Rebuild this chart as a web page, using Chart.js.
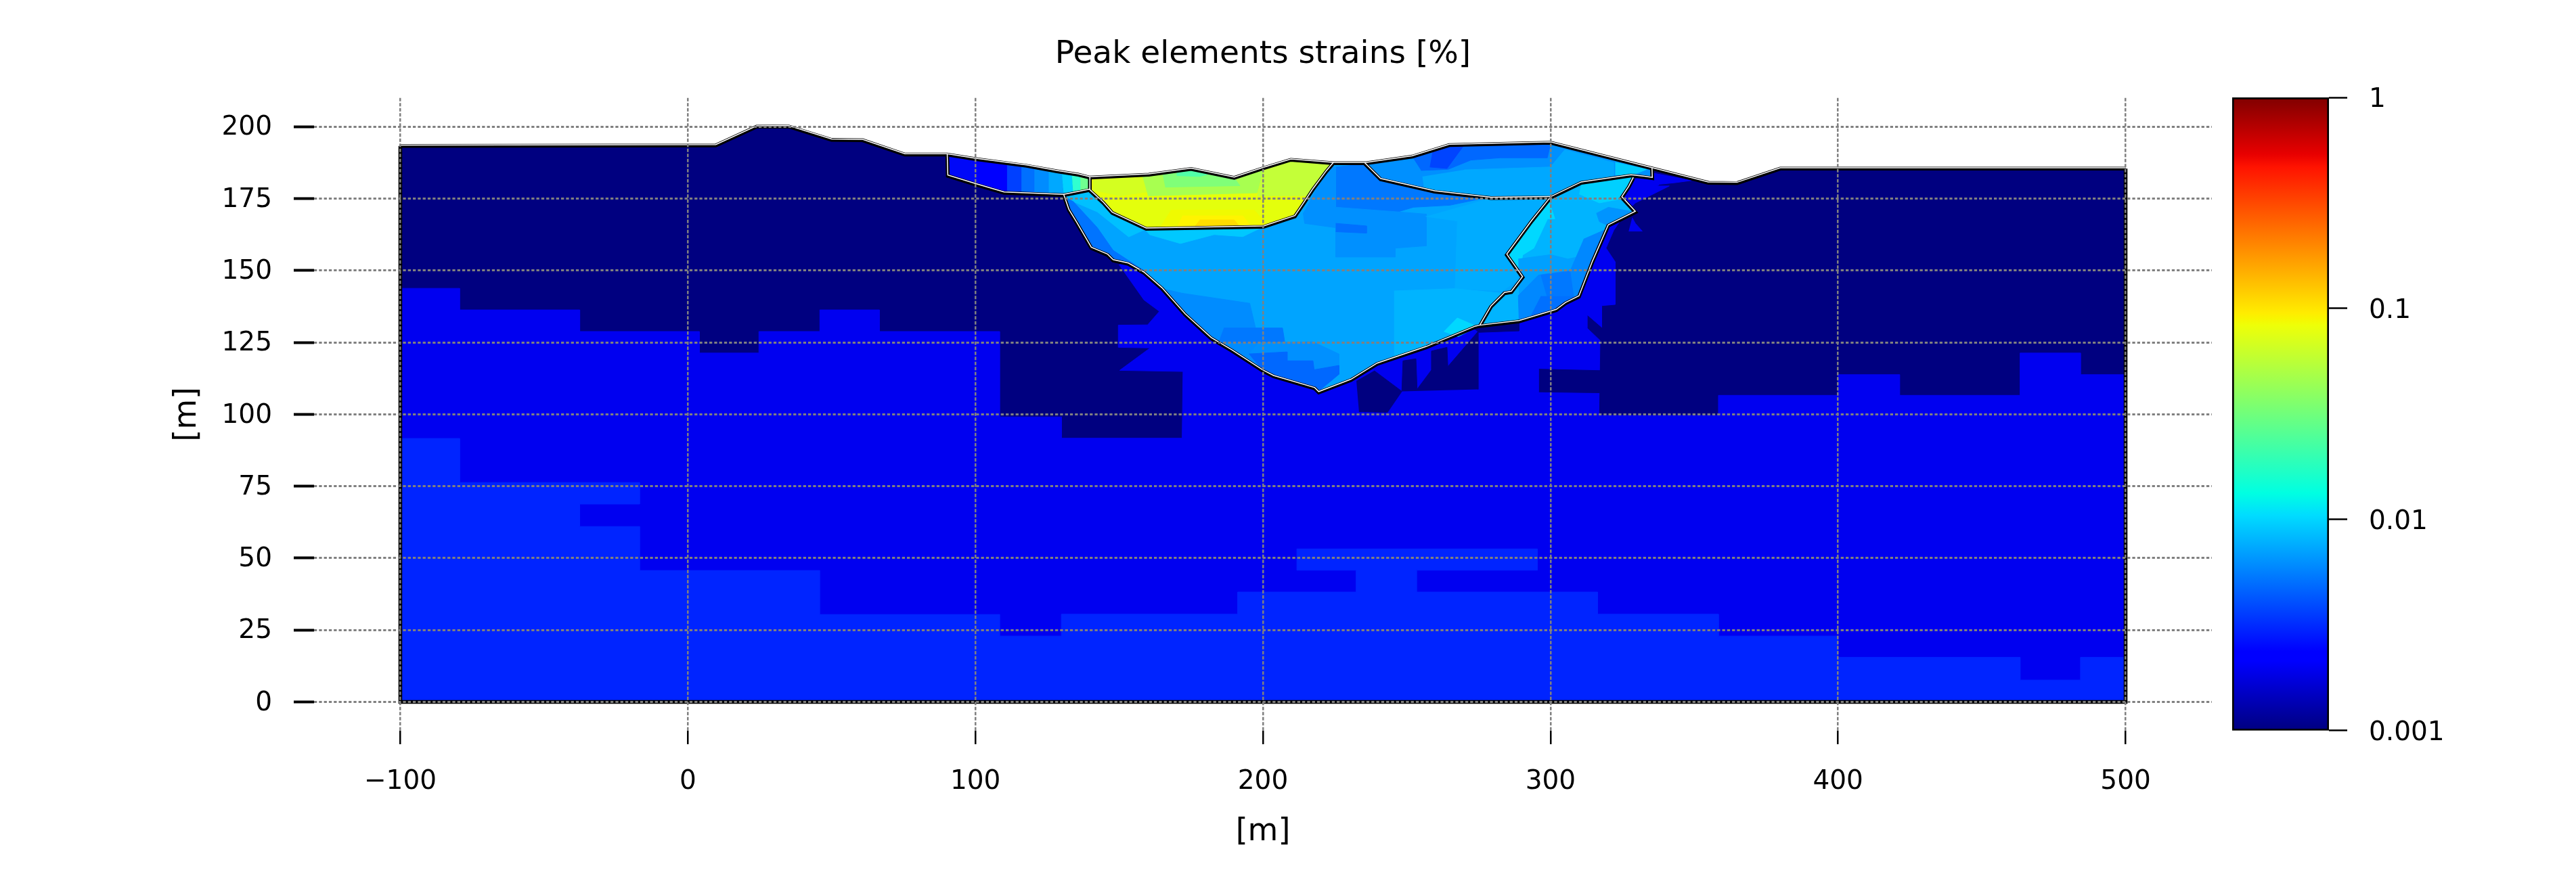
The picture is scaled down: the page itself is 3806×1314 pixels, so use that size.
<!DOCTYPE html>
<html>
<head>
<meta charset="utf-8">
<script src="https://cdn.jsdelivr.net/npm/chart.js@4"></script>
<style>
  html, body { margin: 0; background: #fff; }
  #main { position: absolute; left: 0; top: 0; }
  #bar { position: absolute; left: 3280px; top: 120px; }
</style>
</head>
<body>
<canvas id="main" width="3806" height="1314"></canvas>
<canvas id="bar" width="360" height="990"></canvas>
<script>
const xTicks = [-100, 0, 100, 200, 300, 400, 500];
const yTicks = [0, 25, 50, 75, 100, 125, 150, 175, 200];
const barTicks = [0.001, 0.01, 0.1, 1];
const barLabels = ['0.001', '0.01', '0.1', '1'];

// ground surface, left to right [x, y] in metres
const surface = [[-100,193.3],[9.7,193.5],[23.9,200],[35,200.1],[50,195.4],[60.8,195.3],[75.5,190.3],[90.2,190.3],[99.8,188.8],[117.8,186.4],[128.4,184.5],[135.8,183.3],[139.8,182.3],[160.3,183.3],[175,185.3],[190,182.2],[200.2,185.6],[209.7,188.5],[224.5,187.3],[236,187.3],[251.9,189.6],[264.8,193.6],[300.1,194.4],[335.3,185.5],[354.9,180.5],[364.9,180.4],[379.9,185.4],[500,185.4]];
const domain = [...surface, [500,0], [-100,0]];

// foundation fields (top edge then down to the base)
const blueField = [[-100,143.8],[-79.4,143.8],[-79.4,136.3],[-37.6,136.3],[-37.6,128.8],[4,128.8],[4,121.3],[24.7,121.3],[24.7,128.8],[45.9,128.8],[45.9,136.3],[66.6,136.3],[66.6,128.8],[108.4,128.8],[108.4,99.1],[129.9,99.1],[129.9,91.7],[171.9,91.7],[172.2,114.9],[150.2,115.3],[160.8,123.1],[149.7,123.3],[149.7,131],[159.9,131.1],[164,135.8],[158.6,139.8],[150,152],[200,170],[300,170],[335,184],[349,181.3],[343,180.5],[338,180],[337,179.4],[341.3,179.4],[329.5,173.5],[326,170],[322,164],[319.3,157.8],[322.5,153],[322.5,138.2],[317.8,137.8],[317.8,130.3],[312.7,134.7],[312.7,130],[317.2,125.7],[316.8,99.6],[358.4,99.6],[358.4,106.6],[400,106.6],[400,113.8],[421.4,113.8],[421.4,106.6],[463.3,106.6],[463.3,121.3],[484.3,121.3],[484.3,113.8],[500,113.8],[500,0],[-100,0]];
const lightField = [[-100,91.6],[-79.4,91.6],[-79.4,76.3],[-16.8,76.3],[-16.8,68.8],[-37.6,68.8],[-37.6,61],[-16.8,61],[-16.8,45.7],[45.8,45.7],[45.8,30.4],[108.4,30.4],[108.4,22.9],[129.9,22.9],[129.9,30.5],[191.2,30.5],[191.2,38.2],[232.4,38.2],[232.4,45.8],[211.8,45.8],[211.8,53.2],[295.4,53.2],[295.4,45.8],[253.4,45.8],[253.4,38.2],[316.4,38.2],[316.4,30.5],[358.4,30.5],[358.4,22.9],[400,22.9],[400,15.5],[463.3,15.5],[463.3,7.6],[484.3,7.6],[484.3,15.5],[500,15.5],[500,0],[-100,0]];
const pocketA = [[232.5,111.5],[238.8,115.1],[248.3,108],[243.3,100.7],[233.4,100.9]];
const pocketB = [[248.3,108],[248.7,118.6],[253.2,119.3],[253.6,108.7],[258.6,115.4],[258.6,122],[264,123.3],[264.3,116.6],[274.8,128.8],[274.8,108.7]];
const pocketC = [[296,115.7],[317.2,115.2],[317.2,107.5],[296,107.8]];
const sliver = [[272,130.8],[289,132.4],[289,129],[275,128.5]];
const blueChip = [[327.2,163.7],[331.9,163.7],[329.5,166.4],[328.4,168.4]];

// upstream shell, left to right
const shellA = [[90.2,190.3],[99.8,188.8],[100,180],[92,182.5],[90.4,182.9]];
const shellB = [[99.8,188.8],[111,187.3],[111,176.8],[100,180]];
const shellC = [[111,187.3],[116,186.6],[116,176.7],[111,176.8]];
const shellD = [[116,186.6],[120.5,186],[120.5,176.5],[116,176.7]];
const shellE = [[120.5,186],[125.5,185],[125.5,176.4],[120.5,176.5]];
const shellF = [[125.5,185],[130,184.3],[130.7,176.2],[125.5,176.4]];
const shellG = [[130,184.3],[133.5,183.7],[134,176.5],[130.7,176.2]];
const shellH = [[133.5,183.7],[136.5,183],[136.5,177.2],[134,176.5]];
const shellI = [[136.5,183],[139.8,182.3],[139.8,178],[136.5,177.2]];

// central body
const body = [[130.7,176.2],[139.8,178],[144.5,173.5],[147.6,170],[159.4,164.5],[200.2,165.2],[211.1,168.8],[214.3,173.5],[217.4,178.2],[222.1,184.5],[224.5,187.2],[235.4,187.2],[240.9,181.7],[259.7,177.4],[279.3,175.2],[300.1,175.4],[293.5,167.2],[284.8,155.4],[290.3,147.6],[286.4,142.5],[284,142.1],[279.3,137.4],[275.4,130.7],[273.9,130.4],[256.8,123.3],[239.7,117.5],[230.6,111.9],[219.4,107.6],[218,109],[203.7,113.2],[200,115.1],[189.2,122.1],[182,126.4],[173,134.6],[164.9,143.7],[158.6,149.2],[153.2,152.3],[147.9,153.5],[146,155.4],[140.3,157.8],[135.3,166.4],[132.5,171]];
const bodyTopDark = [[225.3,186],[235.4,187],[240.9,181.7],[259.7,177.4],[277.5,175.3],[265,172.7],[252.3,172],[246.9,170.4],[225.3,172]];
const bodyTopMid = [[218,177.4],[224,186],[225.3,186],[225.3,172],[246.9,170.4],[256.8,169.6],[256.8,158.6],[246,157.8],[246,154.7],[225.3,154.7],[225.3,164.9],[214.5,166.4],[214,170]];
const bodyBlob = [[225.3,166.4],[236,165.5],[236,163],[225.3,163.5]];
const underCore = [[158.7,164.5],[200,165.2],[193,161.8],[183,162.5],[171.3,159.4],[160.5,162.5]];
const coreSide = [[131.6,175.7],[139.8,177.8],[148,170],[159,164.3],[153.3,161.7],[142.4,170.4],[134,174]];
const leftStrip = [[132,175],[134,174],[142.4,164.9],[147.9,157],[158.6,150],[153.2,152.3],[147.9,153.5],[146,155.4],[140.3,157.8],[135.3,166.4],[132.5,171]];
const lowerLeft = [[165,143.7],[171.9,142.1],[195.4,138.6],[198.6,125],[205,114],[200,115.1],[189.2,122.1],[182,126.4],[173,134.6]];
const lowerDark = [[186.4,130],[206.8,130],[207.6,125],[198.6,124.9],[184.5,125]];
const baseDark = [[195.1,121],[208.4,121.7],[208.4,118.6],[217.4,118.6],[217.8,115.5],[226.4,117],[226.4,113.9],[219.8,108.4],[218,109],[203.7,113.2],[200,115.1]];
const baseMid = [[198.6,124.9],[217.4,125.2],[226.4,121],[226.4,117],[217.8,115.5],[208.4,118.6],[208.4,121.7],[195.1,121]];
const bodyRight = [[277.8,174.8],[299,175],[284.8,155.4],[290,147.6],[283.3,142.9],[266.8,143.7],[267.6,167.2],[256.6,168.8]];
const bodyRightLow = [[245.6,142.9],[266.8,143.7],[283.3,142.1],[275,130.7],[269.1,128],[261.3,125],[245.6,120]];
const bodyCyan = [[274.8,130.4],[267.6,133.5],[263,128.8],[268,127]];

// impervious core
const core = [[139.8,182.3],[160.3,183.3],[175,185.3],[190,182.2],[200.2,185.6],[209.7,188.5],[224.5,187.3],[222.1,184.5],[217.4,178.2],[214.3,173.5],[211.1,168.8],[200.2,165.2],[159.4,164.5],[147.6,170],[144.5,173.5],[139.8,177.8]];
const coreTopLeft = [[141,182.3],[160,183.3],[165,178],[150,176],[141,178]];
const coreTopMid = [[158,183.1],[175,185.3],[190,182.2],[200.2,185.6],[198,177],[160,176]];
const coreGreen = [[165,183.8],[175,185.3],[190,182.2],[192,179.5],[166,179]];
const coreTurq = [[170,184.6],[175,185.3],[182,183.8],[178,182.7],[170,183]];
const coreTopRight = [[200.2,185.6],[209.7,188.5],[224.5,187.3],[219,181],[216,176],[198,176]];
const coreWarm = [[168,171],[197,171],[202,165.2],[164,164.7]];
const coreHot = [[172,169],[193,169],[196,165.2],[170,164.8]];
const coreHotter = [[178,167.6],[190,167.6],[192,165.2],[176,165]];

// crest shell on the right
const crest = [[235.4,187.2],[251.9,189.6],[264.8,193.6],[300.1,194.4],[335.3,185.5],[335.4,182.1],[328,183],[310.7,180.5],[300.1,175.4],[279.3,175.2],[259.7,177.4],[240.9,181.7]];
const crestLow = [[245,181],[259.7,177.4],[279.3,175.2],[300.1,175.4],[310.7,180.5],[322,182.8],[322,187.5],[305,192],[300,186],[270,185]];
const crestLeft = [[235.4,187.2],[251.9,189.6],[255,184.8],[256,178],[240.9,181.7]];
const crestTop = [[251.9,189.6],[264.8,193.6],[300.1,194.4],[298.9,189.2],[282.5,189.2],[272.3,188.4],[264.4,185.2],[255,184.8]];
const crestDark = [[259,191.6],[264.8,193.6],[270,193.7],[264,185.5],[258,186]];
const crestCyan = [[322.5,187.6],[333.5,185.2],[328,183],[322.5,183.3]];

// downstream toe
const toe = [[300.1,175.4],[310.7,180.5],[328,183],[328.8,182.1],[327.2,179],[324.8,175.4],[329.5,170.3],[320.1,165.6],[314.6,153],[309.9,140.9],[305.2,138.6],[302,136.2],[289.1,132.3],[275.4,130.7],[279.3,137.4],[284,142.1],[286.4,142.5],[290.3,147.6],[284.8,155.4],[293.5,167.2]];
const toeCyan = [[285.5,155.4],[299.5,174],[301.5,168],[299,168],[294.2,157.8],[290.3,155.4],[289.5,150]];
const toeTop = [[310.7,180.3],[328.4,182.5],[324.8,175],[317,173.5],[310,176.6]];
const toeEdge = [[320,172],[329.5,170.3],[320.1,165.6],[317,167],[316,170]];
const toeMid = [[288.8,154],[300,155.5],[306,154],[311,155],[310,146],[289,142]];
const toeLow = [[311.5,160.9],[318.6,164],[314.6,153],[309.9,140.9],[305.2,138.6],[302,136.2],[289.1,132.3],[288.8,141.3],[295.8,148.4],[306.8,150]];
const toeDark = [[296.6,148.4],[306.8,149.7],[308,141],[299,140]];
const toeBase = [[296.6,141],[309.9,140.9],[302,136.2],[293,134]];

// zone boundaries
const shellLine = [[90.2,190.3],[90.4,182.9],[99.8,180],[110,177],[130.7,176.2],[139.8,178]];
const coreLine = [[139.8,182.3],[139.8,177.8],[144.5,173.5],[147.6,170],[159.4,164.5],[200.2,165.2],[211.1,168.8],[214.3,173.5],[217.4,178.2],[222.1,184.5],[224.5,187.3]];
const bodyLine = [[130.7,176.2],[132.5,171],[135.3,166.4],[140.3,157.8],[146,155.4],[147.9,153.5],[153.2,152.3],[158.6,149.2],[164.9,143.7],[173,134.6],[182,126.4],[189.2,122.1],[200,115.1],[203.7,113.2],[218,109],[219.4,107.6],[230.6,111.9],[239.7,117.5],[256.8,123.3],[273.9,130.4],[275.4,130.7],[289.1,132.3],[302,136.2],[305.2,138.6],[309.9,140.9],[314.6,153],[320.1,165.6],[329.5,170.3],[324.8,175.4],[327.2,179],[328.8,182.1]];
const crestLine = [[235.4,187.2],[240.9,181.7],[259.7,177.4],[279.3,175.2],[300.1,175.4],[310.7,180.5],[328,183],[332.7,182.5],[335.4,182.1],[335.3,185.5]];
const toeLine = [[300.1,175.4],[293.5,167.2],[284.8,155.4],[290.3,147.6],[286.4,142.5],[284,142.1],[279.3,137.4],[275.4,130.7]];

const regionFills = [
  [domain, '#000080'], [blueField, '#0000f0'], [pocketA, '#000080'], [pocketB, '#000080'], [pocketC, '#000080'], [sliver, '#000080'], [blueChip, '#0000f0'], [lightField, '#0024ff'],
  [shellA, '#0008f8'], [shellB, '#0000ff'], [shellC, '#0040ff'], [shellD, '#0070ff'], [shellE, '#008cff'], [shellF, '#00a8ff'], [shellG, '#00d0ff'], [shellH, '#30ffd0'], [shellI, '#70ff90'],
  [body, '#00a4ff'], [bodyTopDark, '#0078ff'], [bodyTopMid, '#0090ff'], [bodyBlob, '#0070ff'], [bodyRight, '#00acff'], [bodyRightLow, '#00b4ff'], [bodyCyan, '#00d8ff'],
  [underCore, '#00c8ff'], [coreSide, '#00c0ff'], [leftStrip, '#0074ff'], [lowerLeft, '#008cff'], [lowerDark, '#0078ff'], [baseMid, '#0090ff'], [baseDark, '#0068ff'],
  [core, '#e4ff0c'], [coreTopLeft, '#d4ff20'], [coreTopMid, '#a8ff50'], [coreGreen, '#80ff78'], [coreTurq, '#50ffa8'], [coreTopRight, '#c4ff38'], [coreWarm, '#f0fa00'], [coreHot, '#fff400'], [coreHotter, '#ffdc00'],
  [crest, '#0090ff'], [crestLow, '#00a8ff'], [crestLeft, '#0090ff'], [crestTop, '#0068ff'], [crestDark, '#0044ff'], [crestCyan, '#00ccff'],
  [toe, '#00b4ff'], [toeCyan, '#00d8ff'], [toeTop, '#00d0ff'], [toeEdge, '#0094ff'], [toeMid, '#00a0ff'], [toeLow, '#0088ff'], [toeDark, '#0078ff'], [toeBase, '#0070ff'],
];
const zoneLines = [surface, shellLine, coreLine, bodyLine, crestLine, toeLine];
const frameLine = [[-100,193.3],[-100,0],[500,0],[500,185.4]];

const jetStops = [[0,'#000080'],[0.11,'#0000ff'],[0.125,'#0000ff'],[0.34,'#00dcff'],[0.35,'#00e6f7'],[0.375,'#00ffe2'],[0.64,'#eeff08'],[0.65,'#f7f600'],[0.66,'#ffec00'],[0.89,'#ff1300'],[0.91,'#e80000'],[1,'#800000']];

const font = 'DejaVu Sans';
const toPts = (a) => a.map(([x, y]) => ({ x, y }));

const fillSets = regionFills.map(([poly, color]) => ({
  data: toPts(poly), showLine: true, fill: 'shape', backgroundColor: color,
  borderColor: color, borderWidth: 1, pointRadius: 0, tension: 0,
}));
const lineSet = (pts, color, width) => ({
  data: pts, showLine: true, fill: false, borderColor: color,
  borderWidth: width, pointRadius: 0, tension: 0,
});
const blackSets = [frameLine, ...zoneLines].map((l) => lineSet(toPts(l), '#000', 5.5));
// the white stroke sits a hair above the black one in the picture
const whiteSets = zoneLines.map((l) => lineSet(toPts(l).map((p) => ({ x: p.x, y: p.y + 0.3 })), '#fff', 1.5));

new Chart(document.getElementById('main'), {
  type: 'scatter',
  // chart.js paints the first dataset last
  data: { datasets: [...fillSets, ...blackSets, ...whiteSets].reverse() },
  options: {
    responsive: false, animation: false, devicePixelRatio: 1,
    layout: { padding: { right: 538 } },
    plugins: {
      legend: { display: false }, tooltip: { enabled: false },
      title: {
        display: true, text: 'Peak elements strains [%]', fullSize: false, color: '#000',
        font: { family: font, size: 47, weight: 'normal' }, padding: { top: 52.6, bottom: 35.8 },
      },
    },
    scales: {
      x: {
        type: 'linear', min: -130, max: 530,
        afterBuildTicks: (s) => { s.ticks = xTicks.map((value) => ({ value })); },
        afterFit: (s) => { s.height = 234; },
        grid: { z: 1, color: '#808080', lineWidth: 2.5, tickLength: 20, tickColor: '#000', tickWidth: 2.5, tickBorderDash: [] },
        border: { display: false, dash: [5, 2.5] },
        ticks: { color: '#000', font: { family: font, size: 39 }, padding: 32, maxRotation: 0, autoSkip: false, callback: (v) => String(v).replace('-', '\u2212') },
        title: { display: true, text: '[m]', color: '#000', font: { family: font, size: 46 }, padding: { bottom: 56 } },
      },
      y: {
        type: 'linear', min: -10, max: 210,
        afterBuildTicks: (s) => { s.ticks = yTicks.map((value) => ({ value })); },
        afterFit: (s) => { s.width = 464; },
        grid: { z: 1, color: '#808080', lineWidth: 3, tickLength: 30, tickColor: '#000', tickWidth: 4, tickBorderDash: [] },
        border: { display: false, dash: [4.3, 3] },
        ticks: { color: '#000', font: { family: font, size: 39 }, padding: 32, labelOffset: 2, autoSkip: false, callback: (v) => String(v) },
        title: { display: true, text: '[m]', color: '#000', font: { family: font, size: 46 }, padding: { top: 249 } },
      },
    },
  },
});

// colour bar, its own small chart with a log axis
function jetFill(ctx) {
  const area = ctx.chart.chartArea;
  if (!area) return '#00f';
  const g = ctx.chart.ctx.createLinearGradient(0, area.bottom, 0, area.top);
  jetStops.forEach(([p, c]) => g.addColorStop(p, c));
  return g;
}

new Chart(document.getElementById('bar'), {
  type: 'bar',
  data: {
    labels: ['strain'],
    datasets: [{
      data: [[barTicks[0], barTicks[barTicks.length - 1]]],
      backgroundColor: jetFill, borderColor: '#000', borderSkipped: false,
      borderWidth: 3,
      barPercentage: 1, categoryPercentage: 1,
    }],
  },
  options: {
    responsive: false, animation: false, devicePixelRatio: 1,
    layout: { padding: { left: 18, top: 24, bottom: 30.2 } },
    plugins: { legend: { display: false }, tooltip: { enabled: false } },
    scales: {
      x: { display: false },
      y: {
        type: 'logarithmic', position: 'right', min: 0.001, max: 1,
        afterBuildTicks: (s) => { s.ticks = barTicks.map((value) => ({ value })); },
        afterFit: (s) => { s.width = 199; s.paddingTop = 0; s.paddingBottom = 0; },
        grid: { drawOnChartArea: false, tickLength: 27, tickColor: '#000', tickWidth: 2.5 },
        border: { display: false },
        ticks: { color: '#000', font: { family: font, size: 39 }, padding: 32, labelOffset: 4, autoSkip: false, callback: (v, i) => barLabels[i] },
      },
    },
  },
});
</script>
</body>
</html>
